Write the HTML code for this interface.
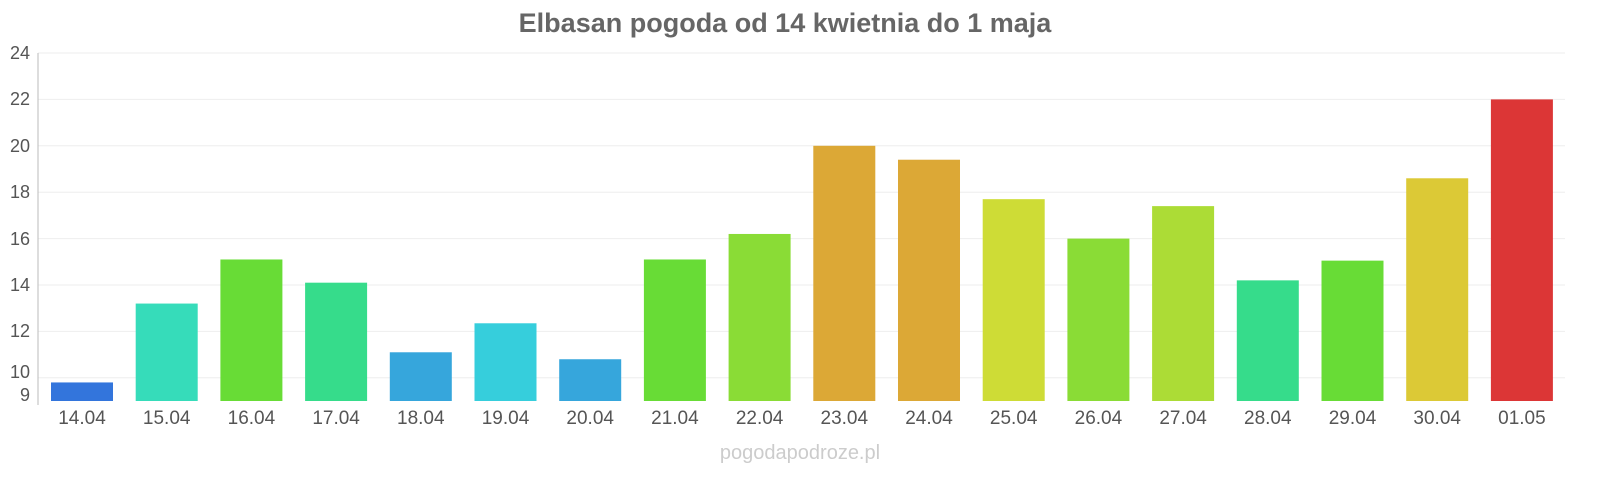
<!DOCTYPE html>
<html><head><meta charset="utf-8"><style>
body{margin:0;background:#fff;}
svg text{font-family:"Liberation Sans",Arial,sans-serif;}
</style></head><body>
<svg width="1600" height="480" xmlns="http://www.w3.org/2000/svg">
<text x="785" y="32" text-anchor="middle" font-size="27" font-weight="bold" fill="#666">Elbasan pogoda od 14 kwietnia do 1 maja</text>
<g stroke="#eee" stroke-width="1">
<line x1="38" x2="1565" y1="53" y2="53"/><line x1="38" x2="1565" y1="99.4" y2="99.4"/>
<line x1="38" x2="1565" y1="145.8" y2="145.8"/><line x1="38" x2="1565" y1="192.2" y2="192.2"/>
<line x1="38" x2="1565" y1="238.6" y2="238.6"/><line x1="38" x2="1565" y1="285" y2="285"/>
<line x1="38" x2="1565" y1="331.4" y2="331.4"/><line x1="38" x2="1565" y1="377.8" y2="377.8"/>
</g>
<line x1="38" x2="38" y1="53" y2="405" stroke="#bbb"/>
<g font-size="18" fill="#555" text-anchor="end">
<text x="30" y="59">24</text><text x="30" y="105">22</text><text x="30" y="152">20</text>
<text x="30" y="198">18</text><text x="30" y="245">16</text><text x="30" y="291">14</text>
<text x="30" y="337">12</text><text x="30" y="378">10</text><text x="30" y="401">9</text>
</g>
<g>
<rect x="51" y="382.44" width="62" height="18.56" fill="#3375dc"/>
<rect x="135.7" y="303.56" width="62" height="97.44" fill="#36dcba"/>
<rect x="220.4" y="259.48" width="62" height="141.52" fill="#68dc36"/>
<rect x="305.1" y="282.68" width="62" height="118.32" fill="#36dc8b"/>
<rect x="389.8" y="352.28" width="62" height="48.72" fill="#36a6dc"/>
<rect x="474.5" y="323.28" width="62" height="77.72" fill="#36cedc"/>
<rect x="559.2" y="359.24" width="62" height="41.76" fill="#36a6dc"/>
<rect x="643.9" y="259.48" width="62" height="141.52" fill="#68dc36"/>
<rect x="728.6" y="233.96" width="62" height="167.04" fill="#8adc36"/>
<rect x="813.3" y="145.8" width="62" height="255.2" fill="#dca836"/>
<rect x="898" y="159.72" width="62" height="241.28" fill="#dca836"/>
<rect x="982.7" y="199.16" width="62" height="201.84" fill="#cedc36"/>
<rect x="1067.4" y="238.6" width="62" height="162.4" fill="#8adc36"/>
<rect x="1152.1" y="206.12" width="62" height="194.88" fill="#acdc36"/>
<rect x="1236.8" y="280.36" width="62" height="120.64" fill="#36dc8b"/>
<rect x="1321.5" y="260.64" width="62" height="140.36" fill="#68dc36"/>
<rect x="1406.2" y="178.28" width="62" height="222.72" fill="#dcc936"/>
<rect x="1490.9" y="99.4" width="62" height="301.6" fill="#dc3636"/>
</g>
<g font-size="19" fill="#555" text-anchor="middle">
<text x="82" y="424">14.04</text><text x="166.7" y="424">15.04</text><text x="251.4" y="424">16.04</text>
<text x="336.1" y="424">17.04</text><text x="420.8" y="424">18.04</text><text x="505.5" y="424">19.04</text>
<text x="590.2" y="424">20.04</text><text x="674.9" y="424">21.04</text><text x="759.6" y="424">22.04</text>
<text x="844.3" y="424">23.04</text><text x="929" y="424">24.04</text><text x="1013.7" y="424">25.04</text>
<text x="1098.4" y="424">26.04</text><text x="1183.1" y="424">27.04</text><text x="1267.8" y="424">28.04</text>
<text x="1352.5" y="424">29.04</text><text x="1437.2" y="424">30.04</text><text x="1521.9" y="424">01.05</text>
</g>
<text x="800" y="459" text-anchor="middle" font-size="20" fill="#ccc">pogodapodroze.pl</text>
</svg>
</body></html>
